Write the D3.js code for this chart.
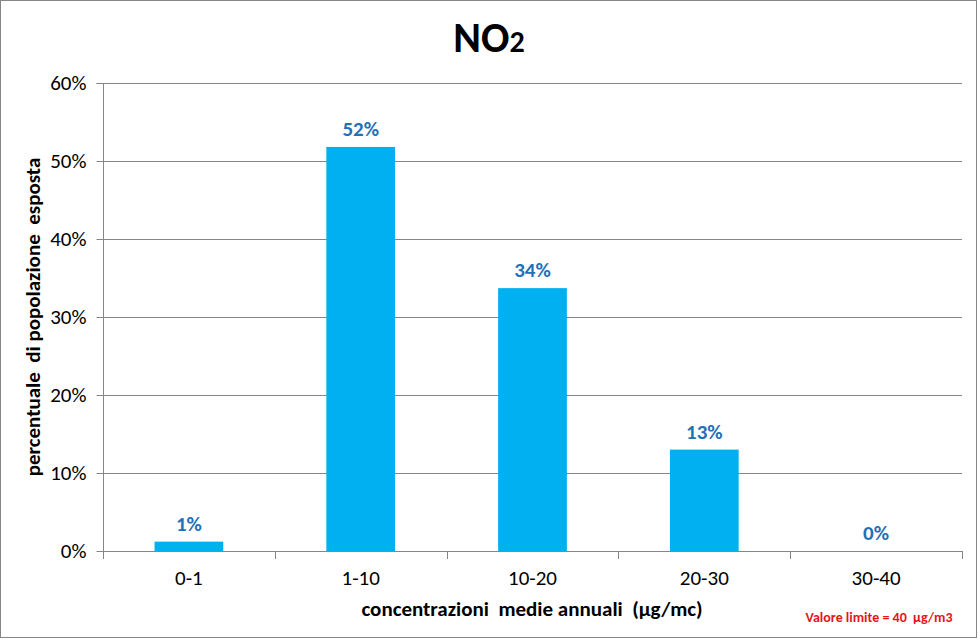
<!DOCTYPE html>
<html><head><meta charset="utf-8">
<script src="https://cdn.jsdelivr.net/npm/d3@7"></script>
<style>
body{margin:0;background:#fff;}
text{font-family:Carlito, Lato, "Open Sans", sans-serif;}
</style></head>
<body><svg id="c" width="978" height="639"></svg>
<script>
const categories = ["0-1","1-10","10-20","20-30","30-40"];
const values = [0.012, 0.518, 0.337, 0.13, 0];
const labels = ["1%","52%","34%","13%","0%"];
const yTicks = [0,0.1,0.2,0.3,0.4,0.5,0.6];

const svg = d3.select("#c");
svg.append("rect").attr("x",0.5).attr("y",0.5).attr("width",976).attr("height",637)
  .attr("fill","#fff").attr("stroke","#868686").attr("stroke-width",1);

const L=103, R=962, T=83, B=551;
const x = d3.scaleBand().domain(categories).range([L,R]).paddingInner(0.6).paddingOuter(0.3);
const y = d3.scaleLinear().domain([0,0.6]).range([B,T]);

// gridlines
svg.append("g").selectAll("line").data(yTicks.filter(d=>d>0)).join("line")
  .attr("x1",L).attr("x2",R).attr("y1",d=>Math.round(y(d))+0.5).attr("y2",d=>Math.round(y(d))+0.5)
  .attr("stroke","#868686").attr("stroke-width",1);

// bars
svg.append("g").selectAll("rect").data(values).join("rect")
  .attr("x",(d,i)=>x(categories[i])).attr("width",x.bandwidth())
  .attr("y",d=>y(d)).attr("height",d=>B-y(d)).attr("fill","#00B0F0");

// y axis
const ya = svg.append("g").attr("transform",`translate(${L+0.5},0)`)
  .call(d3.axisLeft(y).tickValues(yTicks).tickFormat(d3.format(".0%")).tickSize(7).tickPadding(10));
ya.select(".domain").attr("stroke","#868686").attr("d",`M-7,${T+0.5}H0V${B+0.5}`);
ya.selectAll(".tick line").attr("stroke","#868686");
ya.selectAll(".tick text").attr("font-size",21).attr("fill","#000").attr("font-family","Carlito, Lato, sans-serif");

// x axis
const xa = svg.append("g").attr("transform",`translate(0,${B+0.5})`)
  .call(d3.axisBottom(x).tickSize(0).tickPadding(19));
xa.select(".domain").attr("stroke","#868686").attr("d",`M${L},0H${R}`);
xa.selectAll(".tick text").attr("font-size",21).attr("fill","#000").attr("font-family","Carlito, Lato, sans-serif");
const bounds = categories.map(c=>x(c)-x.step()*x.paddingInner()/2).concat([R]);
bounds[0]=L;
svg.append("g").selectAll("line").data(bounds).join("line")
  .attr("x1",d=>Math.round(d)+0.5).attr("x2",d=>Math.round(d)+0.5).attr("y1",B).attr("y2",B+8)
  .attr("stroke","#868686");

// data labels
svg.append("g").selectAll("text").data(values).join("text")
  .attr("x",(d,i)=>x(categories[i])+x.bandwidth()/2).attr("y",d=>y(d)-11)
  .attr("text-anchor","middle").attr("font-size",21).attr("font-weight","bold").attr("fill","#1F71B8")
  .text((d,i)=>labels[i]);

// title
const t = svg.append("text").attr("x",489).attr("y",52).attr("text-anchor","middle")
  .attr("font-size",42).attr("font-weight","bold").attr("fill","#000");
t.append("tspan").text("NO");
t.append("tspan").attr("font-size",30).text("2");

// axis titles
svg.append("text").attr("x",532).attr("y",616).attr("text-anchor","middle")
  .attr("font-size",21).attr("font-weight","bold").attr("fill","#000")
  .attr("xml:space","preserve").text("concentrazioni  medie annuali  (µg/mc)");
svg.append("text").attr("transform","translate(40,317) rotate(-90)").attr("text-anchor","middle")
  .attr("font-size",21).attr("font-weight","bold").attr("fill","#000")
  .attr("xml:space","preserve").text("percentuale  di popolazione  esposta");

svg.append("text").attr("x",879).attr("y",622).attr("text-anchor","middle")
  .attr("font-size",14).attr("font-weight","bold").attr("fill","#E8141B")
  .attr("xml:space","preserve").text("Valore limite = 40  µg/m3");
</script></body></html>
